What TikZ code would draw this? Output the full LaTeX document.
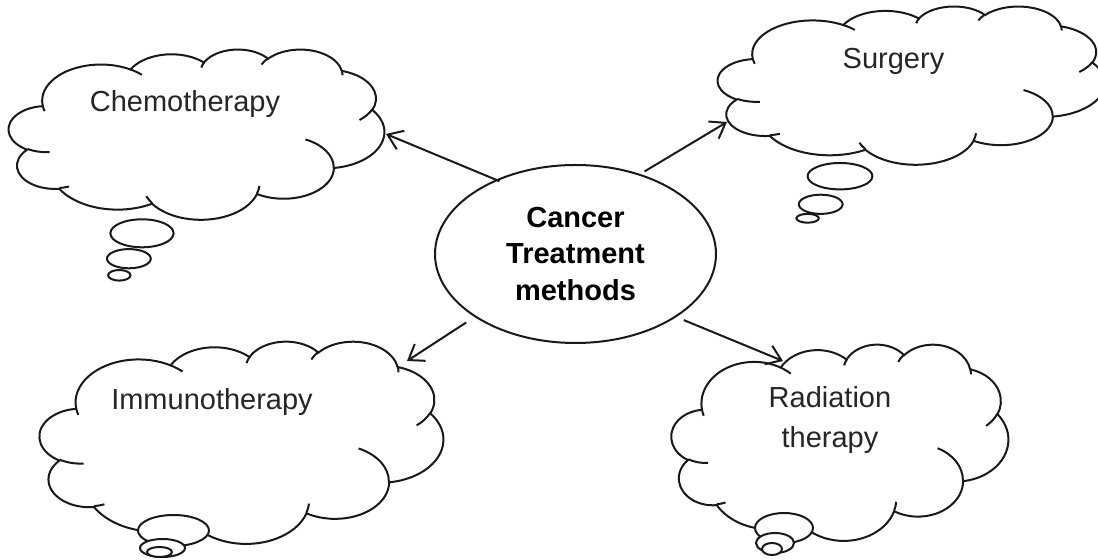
\documentclass[tikz,border=0pt]{standalone}
\usepackage{fontspec}
\setmainfont{Liberation Sans}
\usetikzlibrary{arrows.meta,shapes.geometric}
\tikzset{
  inkline/.style={draw=black!90,line width=1pt},
  cloudtext/.style={font=\fontsize{14.5}{20}\selectfont,inner sep=0pt,text=black!85},
  bubble/.style={inkline,fill=white},
  spoke/.style={inkline,-{Straight Barb[length=7pt,width=10pt]}},
  hub/.style={ellipse,inkline,fill=white,minimum width=140.5pt,minimum height=89pt,
    inner sep=0pt,align=center,font=\bfseries\fontsize{14.5}{18.25}\selectfont},
  pics/thoughtcloud/.style 2 args={code={
    \begin{scope}[x=#1,y=#2]
      % outline of the puffs
      \draw[inkline,fill=white] (39.00,143.70)
        \foreach \rx/\ry/\st/\sw in {67.53/91.90/-190.4875/123.7805, 53.33/72.67/-144.1024/89.9452,
          43.65/59.45/-145.8079/99.7230, 48.57/65.95/-130.9861/117.2417, 53.33/72.73/-78.7089/109.0269,
          67.75/92.20/-46.2673/130.2690, 57.85/78.67/0.6250/114.0333, 67.52/92.15/22.4516/115.1726,
          77.20/105.43/66.2426/75.7110, 43.60/59.18/-274.9421/146.7356, 43.45/59.45/-246.8285/152.5189}{
          arc[x radius=\rx,y radius=\ry,start angle={atan2(\rx*sin(\st),\ry*cos(\st))},
            delta angle={mod(atan2(\rx*sin(\st+\sw),\ry*cos(\st+\sw))-atan2(\rx*sin(\st),\ry*cos(\st))+720,360)}]
        } -- cycle;
      % little hooks inside
      \foreach \px/\py/\rx/\ry/\st/\sw in {46.93/261.77/43.45/59.45/86.7420/26.4295,
          69.28/348.99/43.60/59.18/73.6105/11.4475, 164.78/390.90/67.52/92.15/137.6242/14.0811,
          288.27/347.51/67.52/92.15/6.4533/15.9984, 341.29/229.54/57.85/78.67/-70.2924/70.9174,
          417.98/153.54/53.33/72.73/30.3180/27.7515, 383.24/54.26/48.57/65.95/-13.7443/14.8589,
          290.78/39.52/48.57/65.95/-149.1815/18.1954, 221.41/47.20/43.65/59.45/-163.4943/17.6864,
          140.00/51.92/67.53/91.90/-66.7070/12.3194, 41.27/157.89/67.53/91.90/157.6544/11.8582}
        \draw[inkline] (\px,\py) arc[x radius=\rx,y radius=\ry,start angle={atan2(\rx*sin(\st),\ry*cos(\st))},
            delta angle={mod(atan2(\rx*sin(\st+\sw),\ry*cos(\st+\sw))-atan2(\rx*sin(\st),\ry*cos(\st))+720,360)}];
    \end{scope}
  }}
}
\begin{document}
\begin{tikzpicture}[x=0.5pt,y=-0.5pt]
  \useasboundingbox (0,0) rectangle (1098,560);
  \clip (0,0) rectangle (1098,560);
  % clouds
  \pic at (8.8,49) {thoughtcloud={0.4346pt}{-0.1970pt}};
  \pic at (717.8,6) {thoughtcloud={0.4479pt}{-0.1831pt}};
  \pic at (39.7,341) {thoughtcloud={0.4671pt}{-0.2340pt}};
  \pic at (671.5,344) {thoughtcloud={0.3898pt}{-0.2271pt}};
  % bubbles
  \draw[bubble] (142,233.3) ellipse [x radius=31.6,y radius=14];
  \draw[bubble] (128.9,258.7) ellipse [x radius=21.9,y radius=9.6];
  \draw[bubble] (119.3,275.3) ellipse [x radius=11.2,y radius=5.3];
  \draw[bubble] (840,176.2) ellipse [x radius=32.4,y radius=13.2];
  \draw[bubble] (820.7,204.3) ellipse [x radius=21.9,y radius=9.6];
  \draw[bubble] (807.6,218.3) ellipse [x radius=11.2,y radius=4.4];
  \draw[bubble] (173.5,530.5) ellipse [x radius=35.5,y radius=15.5];
  \draw[bubble] (162.5,548) ellipse [x radius=22.5,y radius=9];
  \draw[bubble] (159.5,552) ellipse [x radius=12.5,y radius=5];
  \draw[bubble] (784,528) ellipse [x radius=29,y radius=15];
  \draw[bubble] (775,543) ellipse [x radius=19,y radius=10];
  \draw[bubble] (772,549) ellipse [x radius=10,y radius=6];
  % texts
  \node[cloudtext,anchor=base] (chemo) at (185,112) {Chemotherapy};
  \node[cloudtext,anchor=base] (surgery) at (893.5,68.4) {Surgery};
  \node[cloudtext,anchor=base] (immuno) at (212,410) {Immunotherapy};
  \node[cloudtext,align=center] (radiation) at (830,420.4) {Radiation\\therapy};
  \node[hub] (hub) at (575.5,254) {Cancer\\Treatment\\methods};
  % arrows
  \coordinate (chemotip) at (386,134);
  \coordinate (surgerytip) at (727,122);
  \coordinate (immunotip) at (407,361);
  \coordinate (radiationtip) at (783,361);
  \draw[spoke,shorten <=-2pt] (hub.137) -- (chemotip);
  \draw[spoke,shorten <=2.5pt] (hub.51) -- (surgerytip);
  \draw[spoke,shorten <=5pt] (hub.212.7) -- (immunotip);
  \draw[spoke,shorten <=4pt] (hub.328.5) -- (radiationtip);
\end{tikzpicture}
\end{document}
